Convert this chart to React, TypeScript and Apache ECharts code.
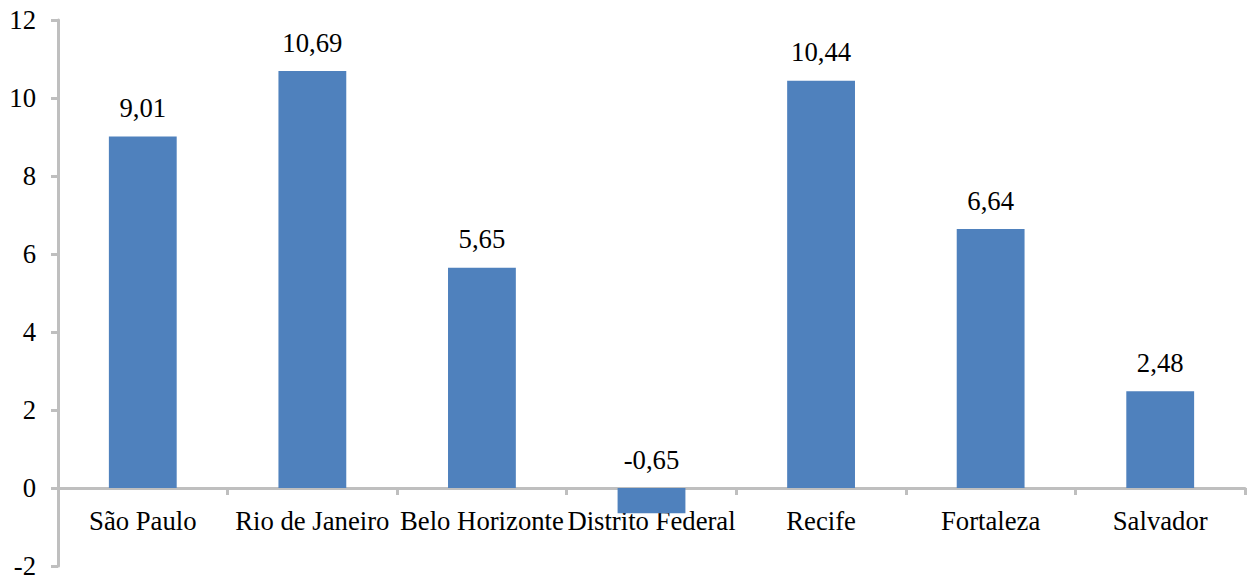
import React, { useEffect, useRef } from "react";
import * as echarts from "echarts";

const categories = ["São Paulo", "Rio de Janeiro", "Belo Horizonte", "Distrito Federal", "Recife", "Fortaleza", "Salvador"];
const values = [9.01, 10.69, 5.65, -0.65, 10.44, 6.64, 2.48];

const FONT = "'Liberation Serif', 'Times New Roman', serif";
const FS = 26.7;

export default function App() {
  const ref = useRef<HTMLDivElement>(null);
  useEffect(() => {
    const chart = echarts.init(ref.current!, null, { renderer: "svg" });
    chart.setOption({
      animation: false,
      grid: { left: 58, right: 5, top: 20, bottom: 11, containLabel: false, outerBoundsMode: "none" },
      xAxis: {
        type: "category",
        data: categories,
        axisLine: { onZero: true, lineStyle: { color: "#BFBFBF", width: 3 } },
        axisTick: { show: true, length: 7, lineStyle: { color: "#BFBFBF", width: 3 } },
        axisLabel: { color: "#000", fontFamily: FONT, fontSize: FS, margin: -59, interval: 0 },
      },
      yAxis: {
        type: "value",
        min: -2,
        max: 12,
        interval: 2,
        splitLine: { show: false },
        axisLine: { show: true, lineStyle: { color: "#BFBFBF", width: 3 } },
        axisTick: { show: true, length: 7, lineStyle: { color: "#BFBFBF", width: 3 } },
        axisLabel: { color: "#000", fontFamily: FONT, fontSize: FS, margin: 22 },
      },
      series: [
        {
          type: "bar",
          data: values,
          barWidth: "40%",
          itemStyle: { color: "#4F81BD" },
          label: {
            show: true,
            position: "top",
            distance: 15,
            color: "#000",
            fontFamily: FONT,
            fontSize: FS,
            formatter: (p: any) => String(p.value.toFixed(2)).replace(".", ","),
          },
        },
      ],
    });
    return () => chart.dispose();
  }, []);
  return <div ref={ref} style={{ position: "fixed", left: 0, top: 0, width: 1250, height: 577, background: "#fff" }} />;
}
